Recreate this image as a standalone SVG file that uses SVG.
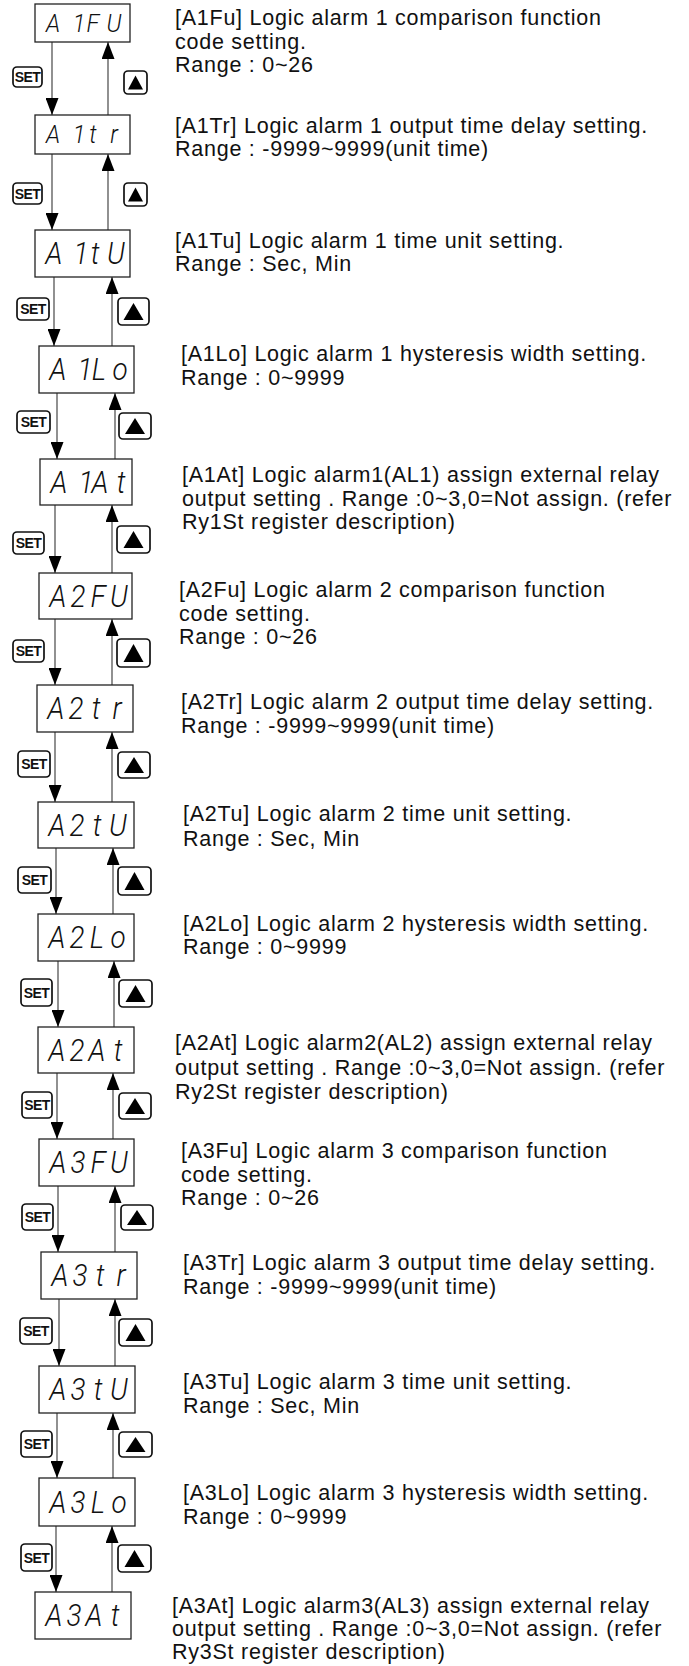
<svg xmlns="http://www.w3.org/2000/svg" width="689" height="1666" viewBox="0 0 689 1666">
<style>
.box{fill:#fff;stroke:#222;stroke-width:1.3}
.seg{font-family:Roboto,'Open Sans','Liberation Sans',sans-serif;font-weight:300;font-style:italic;font-size:31px;fill:#111;text-anchor:middle}
.seg.sm{font-size:26px}
.lbl{font-family:'Liberation Sans',Arial,sans-serif;font-size:21.5px;letter-spacing:0.75px;fill:#111}
.conn{stroke:#555;stroke-width:1.3;fill:none}
.dn{marker-end:url(#ah)}
.btn{fill:#fff;stroke:#111;stroke-width:1.7}
.settxt{font-family:'Liberation Sans',Arial,sans-serif;font-weight:bold;font-size:14px;letter-spacing:-0.6px;text-anchor:middle;fill:#111}
.tri{fill:#000}
</style>
<defs>
<marker id="ah" markerUnits="userSpaceOnUse" markerWidth="17" markerHeight="13" refX="17" refY="6.5" orient="auto" viewBox="0 0 17 13"><path d="M0,0 L17,6.5 L0,13 Z" fill="#000"/></marker>
</defs>

<g id="connectors">
<line class="conn dn" x1="52" y1="42" x2="52" y2="115"/><line class="conn dn" x1="108" y1="115" x2="108" y2="42"/>
<line class="conn dn" x1="52" y1="154" x2="52" y2="230"/><line class="conn dn" x1="108" y1="230" x2="108" y2="154"/>
<line class="conn dn" x1="54" y1="277" x2="54" y2="346"/><line class="conn dn" x1="112" y1="346" x2="112" y2="277"/>
<line class="conn dn" x1="57" y1="393" x2="57" y2="459"/><line class="conn dn" x1="115" y1="459" x2="115" y2="393"/>
<line class="conn dn" x1="55" y1="505" x2="55" y2="573"/><line class="conn dn" x1="112" y1="573" x2="112" y2="505"/>
<line class="conn dn" x1="55" y1="619" x2="55" y2="685"/><line class="conn dn" x1="112" y1="685" x2="112" y2="619"/>
<line class="conn dn" x1="55" y1="732" x2="55" y2="802"/><line class="conn dn" x1="112" y1="802" x2="112" y2="732"/>
<line class="conn dn" x1="56" y1="848" x2="56" y2="914"/><line class="conn dn" x1="113" y1="914" x2="113" y2="848"/>
<line class="conn dn" x1="58" y1="961" x2="58" y2="1027"/><line class="conn dn" x1="114" y1="1027" x2="114" y2="961"/>
<line class="conn dn" x1="57" y1="1073" x2="57" y2="1139"/><line class="conn dn" x1="113" y1="1139" x2="113" y2="1073"/>
<line class="conn dn" x1="58" y1="1186" x2="58" y2="1252"/><line class="conn dn" x1="115" y1="1252" x2="115" y2="1186"/>
<line class="conn dn" x1="59" y1="1299" x2="59" y2="1366"/><line class="conn dn" x1="115" y1="1366" x2="115" y2="1299"/>
<line class="conn dn" x1="57" y1="1413" x2="57" y2="1478"/><line class="conn dn" x1="113" y1="1478" x2="113" y2="1413"/>
<line class="conn dn" x1="56" y1="1526" x2="56" y2="1592"/><line class="conn dn" x1="112" y1="1592" x2="112" y2="1526"/>
</g>

<g id="buttons">
<g id="set1"><rect class="btn" x="13" y="67" width="29" height="20" rx="4"/><text class="settxt" x="27.5" y="82">SET</text></g>
<g id="up1"><rect class="btn" x="124" y="71" width="23" height="23" rx="4"/><path class="tri" d="M135.5,75.5 L143,89.5 L128,89.5 Z"/></g>
<g id="set2"><rect class="btn" x="13" y="183" width="29" height="21" rx="4"/><text class="settxt" x="27.5" y="198.5">SET</text></g>
<g id="up2"><rect class="btn" x="124" y="183" width="23" height="23" rx="4"/><path class="tri" d="M135.5,187.5 L143,201.5 L128,201.5 Z"/></g>
<g id="set3"><rect class="btn" x="17" y="298" width="32" height="22" rx="4"/><text class="settxt" x="33" y="314">SET</text></g>
<g id="up3"><rect class="btn" x="118" y="298" width="31" height="27" rx="4"/><path class="tri" d="M133.5,303 L143.5,320 L123.5,320 Z"/></g>
<g id="set4"><rect class="btn" x="17" y="411" width="33" height="22" rx="4"/><text class="settxt" x="33.5" y="427">SET</text></g>
<g id="up4"><rect class="btn" x="119" y="413" width="32" height="26" rx="4"/><path class="tri" d="M135,418 L145,434 L125,434 Z"/></g>
<g id="set5"><rect class="btn" x="13" y="532" width="31" height="22" rx="4"/><text class="settxt" x="28.5" y="548">SET</text></g>
<g id="up5"><rect class="btn" x="117" y="526" width="33" height="27" rx="4"/><path class="tri" d="M133.5,531 L143.5,548 L123.5,548 Z"/></g>
<g id="set6"><rect class="btn" x="13" y="640" width="31" height="22" rx="4"/><text class="settxt" x="28.5" y="656">SET</text></g>
<g id="up6"><rect class="btn" x="117" y="639" width="33" height="28" rx="4"/><path class="tri" d="M133.5,644 L143.5,662 L123.5,662 Z"/></g>
<g id="set7"><rect class="btn" x="18" y="751" width="32" height="26" rx="4"/><text class="settxt" x="34" y="769">SET</text></g>
<g id="up7"><rect class="btn" x="118" y="752" width="32" height="26" rx="4"/><path class="tri" d="M134,757 L144,773 L124,773 Z"/></g>
<g id="set8"><rect class="btn" x="18" y="867" width="33" height="26" rx="4"/><text class="settxt" x="34.5" y="885">SET</text></g>
<g id="up8"><rect class="btn" x="118" y="867" width="33" height="28" rx="4"/><path class="tri" d="M134.5,872 L144.5,890 L124.5,890 Z"/></g>
<g id="set9"><rect class="btn" x="21" y="979" width="31" height="27" rx="4"/><text class="settxt" x="36.5" y="997.5">SET</text></g>
<g id="up9"><rect class="btn" x="119" y="980" width="33" height="27" rx="4"/><path class="tri" d="M135.5,985 L145.5,1002 L125.5,1002 Z"/></g>
<g id="set10"><rect class="btn" x="22" y="1092" width="30" height="26" rx="4"/><text class="settxt" x="37" y="1110">SET</text></g>
<g id="up10"><rect class="btn" x="119" y="1093" width="32" height="26" rx="4"/><path class="tri" d="M135,1098 L145,1114 L125,1114 Z"/></g>
<g id="set11"><rect class="btn" x="22" y="1204" width="31" height="26" rx="4"/><text class="settxt" x="37.5" y="1222">SET</text></g>
<g id="up11"><rect class="btn" x="121" y="1205" width="32" height="25" rx="4"/><path class="tri" d="M137,1210 L147,1225 L127,1225 Z"/></g>
<g id="set12"><rect class="btn" x="20" y="1318" width="32" height="26" rx="4"/><text class="settxt" x="36" y="1336">SET</text></g>
<g id="up12"><rect class="btn" x="119" y="1319" width="33" height="27" rx="4"/><path class="tri" d="M135.5,1324 L145.5,1341 L125.5,1341 Z"/></g>
<g id="set13"><rect class="btn" x="21" y="1431" width="31" height="26" rx="4"/><text class="settxt" x="36.5" y="1449">SET</text></g>
<g id="up13"><rect class="btn" x="119" y="1432" width="33" height="25" rx="4"/><path class="tri" d="M135.5,1437 L145.5,1452 L125.5,1452 Z"/></g>
<g id="set14"><rect class="btn" x="21" y="1544" width="31" height="27" rx="4"/><text class="settxt" x="36.5" y="1562.5">SET</text></g>
<g id="up14"><rect class="btn" x="118" y="1545" width="33" height="27" rx="4"/><path class="tri" d="M134.5,1550 L144.5,1567 L124.5,1567 Z"/></g>
</g>

<g id="n1"><rect class="box" x="35" y="4" width="95" height="38"/><text class="seg sm" transform="scale(0.9,1)" x="58.89 87.78 103.33 126.67" y="32">A1FU</text></g>
<g id="n2"><rect class="box" x="35" y="115" width="95" height="39"/><text class="seg sm" transform="scale(0.9,1)" x="58.89 87.78 103.33 126.67" y="143.5">A1tr</text></g>
<g id="n3"><rect class="box" x="35" y="230" width="95" height="47"/><text class="seg" transform="scale(0.9,1)" x="60 90 105.56 128.89" y="264.5">A1tU</text></g>
<g id="n4"><rect class="box" x="39" y="346" width="95" height="47"/><text class="seg" transform="scale(0.9,1)" x="64.44 94.44 110 133.33" y="380.5">A1Lo</text></g>
<g id="n5"><rect class="box" x="40" y="459" width="92" height="46"/><text class="seg" transform="scale(0.9,1)" x="65.56 95.56 111.11 134.44" y="493">A1At</text></g>
<g id="n6"><rect class="box" x="39" y="573" width="93" height="46"/><text class="seg" transform="scale(0.9,1)" x="64.44 86.67 108.89 132.22" y="607">A2FU</text></g>
<g id="n7"><rect class="box" x="37" y="685" width="96" height="47"/><text class="seg" transform="scale(0.9,1)" x="62.22 84.44 106.67 130" y="719.5">A2tr</text></g>
<g id="n8"><rect class="box" x="38" y="802" width="96" height="46"/><text class="seg" transform="scale(0.9,1)" x="63.33 85.56 107.78 131.11" y="836">A2tU</text></g>
<g id="n9"><rect class="box" x="38" y="914" width="96" height="47"/><text class="seg" transform="scale(0.9,1)" x="63.33 85.56 107.78 131.11" y="948.5">A2Lo</text></g>
<g id="n10"><rect class="box" x="38" y="1027" width="96" height="46"/><text class="seg" transform="scale(0.9,1)" x="63.33 85.56 107.78 131.11" y="1061">A2At</text></g>
<g id="n11"><rect class="box" x="39" y="1139" width="95" height="47"/><text class="seg" transform="scale(0.9,1)" x="64.44 86.67 108.89 132.22" y="1173.5">A3FU</text></g>
<g id="n12"><rect class="box" x="41" y="1252" width="96" height="47"/><text class="seg" transform="scale(0.9,1)" x="66.67 88.89 111.11 134.44" y="1286.5">A3tr</text></g>
<g id="n13"><rect class="box" x="39" y="1366" width="96" height="47"/><text class="seg" transform="scale(0.9,1)" x="64.44 86.67 108.89 132.22" y="1400.5">A3tU</text></g>
<g id="n14"><rect class="box" x="39" y="1478" width="96" height="48"/><text class="seg" transform="scale(0.9,1)" x="64.44 86.67 108.89 132.22" y="1513">A3Lo</text></g>
<g id="n15"><rect class="box" x="35" y="1592" width="96" height="47"/><text class="seg" transform="scale(0.9,1)" x="60 82.22 104.44 127.78" y="1626.5">A3At</text></g>

<g id="labels">
<text class="lbl" x="175" y="25">[A1Fu] Logic alarm 1 comparison function<tspan x="175" y="48.5">code setting.</tspan><tspan x="175" y="72">Range : 0~26</tspan></text>
<text class="lbl" x="175" y="133">[A1Tr] Logic alarm 1 output time delay setting.<tspan x="175" y="156">Range : -9999~9999(unit time)</tspan></text>
<text class="lbl" x="175" y="248">[A1Tu] Logic alarm 1 time unit setting.<tspan x="175" y="271">Range : Sec, Min</tspan></text>
<text class="lbl" x="181" y="361">[A1Lo] Logic alarm 1 hysteresis width setting.<tspan x="181" y="385">Range : 0~9999</tspan></text>
<text class="lbl" x="182" y="482">[A1At] Logic alarm1(AL1) assign external relay<tspan x="182" y="506">output setting . Range :0~3,0=Not assign. (refer</tspan><tspan x="182" y="529">Ry1St register description)</tspan></text>
<text class="lbl" x="179" y="597">[A2Fu] Logic alarm 2 comparison function<tspan x="179" y="621">code setting.</tspan><tspan x="179" y="644">Range : 0~26</tspan></text>
<text class="lbl" x="181" y="709">[A2Tr] Logic alarm 2 output time delay setting.<tspan x="181" y="733">Range : -9999~9999(unit time)</tspan></text>
<text class="lbl" x="183" y="821">[A2Tu] Logic alarm 2 time unit setting.<tspan x="183" y="846">Range : Sec, Min</tspan></text>
<text class="lbl" x="183" y="931">[A2Lo] Logic alarm 2 hysteresis width setting.<tspan x="183" y="954">Range : 0~9999</tspan></text>
<text class="lbl" x="175" y="1050">[A2At] Logic alarm2(AL2) assign external relay<tspan x="175" y="1075">output setting . Range :0~3,0=Not assign. (refer</tspan><tspan x="175" y="1099">Ry2St register description)</tspan></text>
<text class="lbl" x="181" y="1158">[A3Fu] Logic alarm 3 comparison function<tspan x="181" y="1182">code setting.</tspan><tspan x="181" y="1205">Range : 0~26</tspan></text>
<text class="lbl" x="183" y="1270">[A3Tr] Logic alarm 3 output time delay setting.<tspan x="183" y="1294">Range : -9999~9999(unit time)</tspan></text>
<text class="lbl" x="183" y="1389">[A3Tu] Logic alarm 3 time unit setting.<tspan x="183" y="1413">Range : Sec, Min</tspan></text>
<text class="lbl" x="183" y="1500">[A3Lo] Logic alarm 3 hysteresis width setting.<tspan x="183" y="1524">Range : 0~9999</tspan></text>
<text class="lbl" x="172" y="1613">[A3At] Logic alarm3(AL3) assign external relay<tspan x="172" y="1636">output setting . Range :0~3,0=Not assign. (refer</tspan><tspan x="172" y="1659">Ry3St register description)</tspan></text>
</g>
</svg>
